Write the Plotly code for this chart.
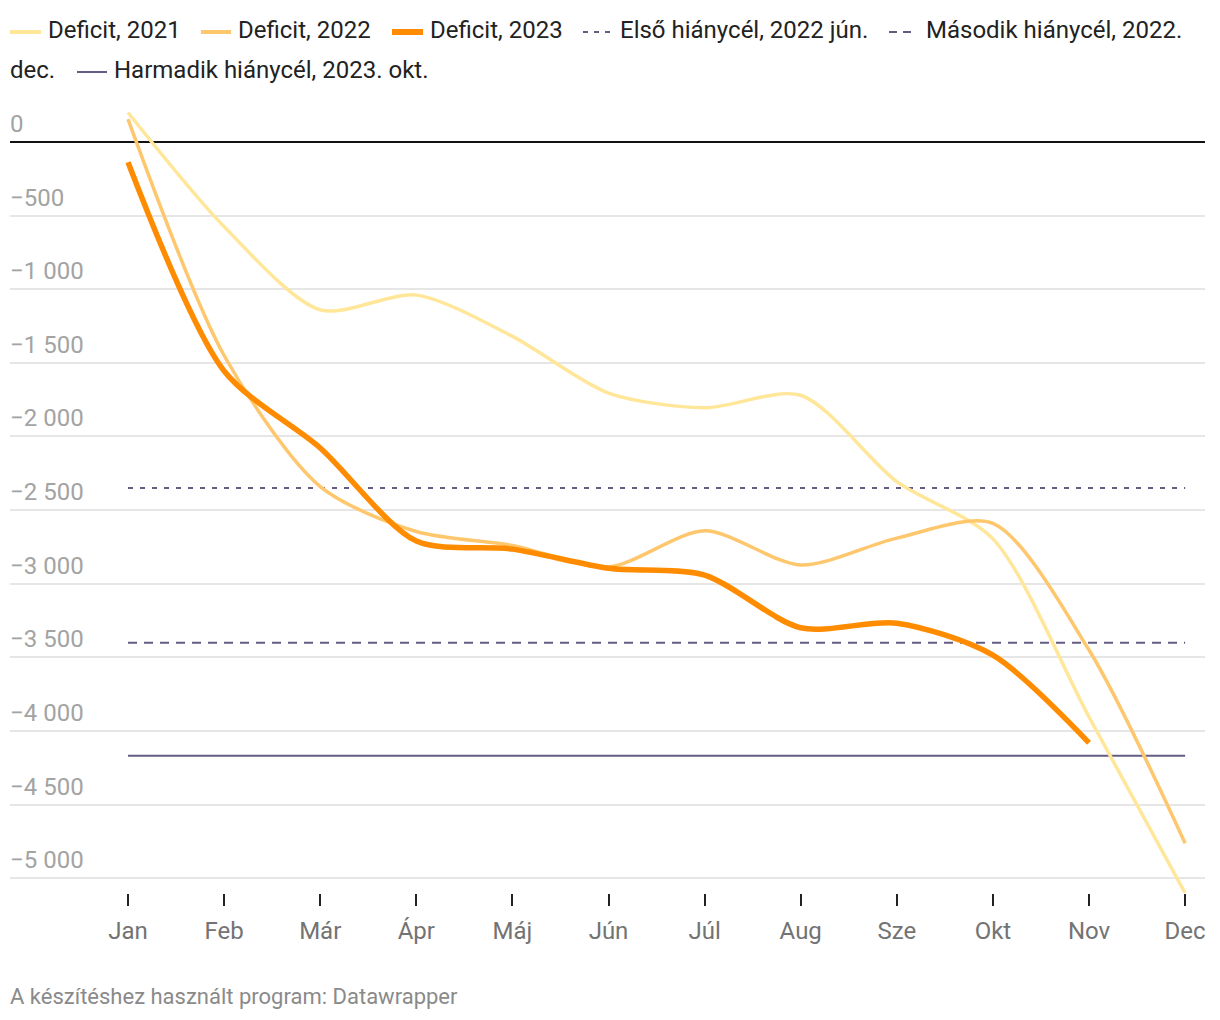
import plotly.graph_objects as go

months = ["Jan", "Feb", "Már", "Ápr", "Máj", "Jún", "Júl", "Aug", "Sze", "Okt", "Nov", "Dec"]
deficit_2021 = [200, -575, -1140, -1040, -1320, -1705, -1805, -1720, -2307, -2695, -3905, -5100]
deficit_2022 = [155, -1450, -2340, -2645, -2740, -2886, -2640, -2873, -2690, -2590, -3450, -4762]
deficit_2023 = [-138, -1555, -2078, -2710, -2765, -2895, -2941, -3299, -3268, -3485, -4080]
target_1 = -2350   # Első hiánycél, 2022 jún.
target_2 = -3400   # Második hiánycél, 2022. dec.
target_3 = -4168   # Harmadik hiánycél, 2023. okt.
y_tick_vals = [0, -500, -1000, -1500, -2000, -2500, -3000, -3500, -4000, -4500, -5000]
y_tick_text = ["0", "−500", "−1 000", "−1 500", "−2 000", "−2 500", "−3 000", "−3 500",
               "−4 000", "−4 500", "−5 000"]

C21 = "#ffe699"
C22 = "#fec76e"
C23 = "#ff8c00"
CREF = "#645c82"
FONT = "Roboto"

W, H = 1220, 1020
L, R, T, B = 10, 15, 100, 127
PW, PH = W - L - R, H - T - B

def px(x):
    return (x - L) / PW

def py(y):
    return (H - B - y) / PH

xi = list(range(len(months)))
fig = go.Figure()

for val, dash in [(target_1, "5px,7px"), (target_2, "9px,7px"), (target_3, "solid")]:
    fig.add_trace(go.Scatter(x=xi, y=[val] * len(xi), mode="lines",
                             line=dict(color=CREF, width=2, dash=dash),
                             hoverinfo="skip", cliponaxis=False))

for data, col, w in [(deficit_2021, C21, 3.5), (deficit_2022, C22, 3.5), (deficit_2023, C23, 5.5)]:
    fig.add_trace(go.Scatter(x=xi[:len(data)], y=data, mode="lines",
                             line=dict(color=col, width=w, shape="spline", smoothing=0.8),
                             cliponaxis=False))

# y tick labels above gridlines
annotations = []
for v, t in zip(y_tick_vals, y_tick_text):
    annotations.append(dict(x=0, xref="paper", y=v, yref="y", text=t, showarrow=False,
                            xanchor="left", yanchor="bottom", yshift=2, xshift=-2,
                            font=dict(family=FONT, size=24, color="#a3a3a3")))

# manual legend
shapes = []
legend_items = [
    (10, 41, 32, C21, 4, "solid", 48, 30, "Deficit, 2021"),
    (201, 231, 32, C22, 4, "solid", 238, 30, "Deficit, 2022"),
    (392, 423, 32, C23, 6, "solid", 430, 30, "Deficit, 2023"),
    (583, 612, 32, CREF, 2, "5px,6px", 620, 30, "Első hiánycél, 2022 jún."),
    (889, 915, 32, CREF, 2, "8px,6px", 926, 30, "Második hiánycél, 2022."),
    (77, 107, 72, CREF, 2, "solid", 114, 70, "Harmadik hiánycél, 2023. okt."),
]
for x0, x1, ly, col, w, dash, tx, ty, txt in legend_items:
    shapes.append(dict(type="line", xref="paper", yref="paper", x0=px(x0), x1=px(x1),
                       y0=py(ly), y1=py(ly), line=dict(color=col, width=w, dash=dash)))
    annotations.append(dict(x=px(tx), xref="paper", y=py(ty), yref="paper", text=txt,
                            showarrow=False, xanchor="left", yanchor="middle", xshift=-2,
                            font=dict(family=FONT, size=24, color="#222222")))
annotations.append(dict(x=px(10), xref="paper", y=py(70), yref="paper", text="dec.",
                        showarrow=False, xanchor="left", yanchor="middle", xshift=-2,
                        font=dict(family=FONT, size=24, color="#222222")))

# footer
annotations.append(dict(x=px(10), xref="paper", y=py(997), yref="paper",
                        text="A készítéshez használt program: Datawrapper", showarrow=False,
                        xanchor="left", yanchor="middle", xshift=-2,
                        font=dict(family=FONT, size=22, color="#8a8a8a")))

fig.update_layout(
    width=W, height=H,
    margin=dict(l=L, r=R, t=T, b=B, pad=0),
    paper_bgcolor="white", plot_bgcolor="white",
    showlegend=False,
    font=dict(family=FONT),
    shapes=shapes,
    annotations=annotations,
    xaxis=dict(range=[-1.228, 11.207], tickvals=xi, ticktext=months, ticks="outside",
               ticklen=12, tickwidth=2, tickcolor="#222222", showgrid=False,
               zeroline=False, showline=False, ticklabelstandoff=4,
               tickfont=dict(family=FONT, size=24, color="#737373")),
    yaxis=dict(range=[-5100, 285], tickvals=y_tick_vals, showticklabels=False,
               showgrid=True, gridcolor="#e6e6e6", gridwidth=2,
               zeroline=True, zerolinecolor="#111111", zerolinewidth=2,
               showline=False, ticks=""),
)

fig.write_html("out.html")
